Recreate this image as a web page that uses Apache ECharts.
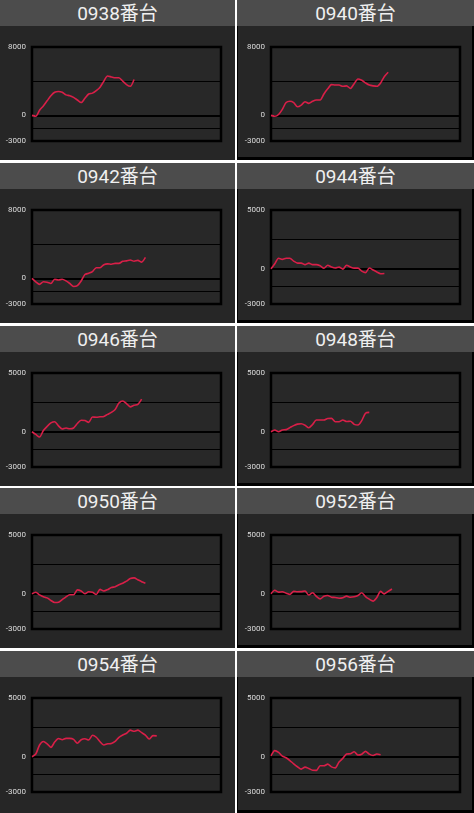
<!DOCTYPE html>
<html><head><meta charset="utf-8">
<script src="https://cdn.jsdelivr.net/npm/echarts@6/dist/echarts.min.js"></script>
<style>
html,body{margin:0;padding:0;background:#fff;width:474px;height:813px;overflow:hidden;}
.panel{position:absolute;background:#262626;box-sizing:border-box;}
.panel.right{border-left:1px solid #000;border-right:2px solid #000;border-bottom:3px solid #000;}
.hdr{position:absolute;left:0;top:0;right:0;height:26px;background:#4c4c4c;color:#f0f0f0;font-family:Roboto,"Noto Sans CJK JP",sans-serif;font-size:19px;line-height:28px;text-align:center;z-index:2;}
.panel.right .hdr{left:-1px;right:-2px;}
.chart{position:absolute;left:0;top:0;right:0;bottom:0;}
</style></head>
<body>
<script>
// ---- data ----
const TITLES = ['0938番台','0940番台','0942番台','0944番台','0946番台','0948番台','0950番台','0952番台','0954番台','0956番台'];
const Y_MIN = -3000;
const Y_MAX = [8000, 8000, 8000, 5000, 5000, 5000, 5000, 5000, 5000, 5000];
const X_SLOTS = 50;
const LABELS_8000 = [-3000, 0, 8000];
const LABELS_5000 = [-3000, 0, 5000];
const GRID_8000 = [4000, 0, -1500];
const GRID_5000 = [2500, 0, -1500];

const s0938 = [0,-100,600,1100,1700,2300,2700,2800,2700,2400,2300,2100,1800,1500,2000,2500,2600,2900,3300,4000,4600,4500,4400,4400,4000,3600,3400,4200];
const s0940 = [0,-100,100,700,1500,1650,1500,1000,1200,1600,1400,1650,1800,1800,2500,3100,3600,3550,3550,3400,3450,3150,3700,4250,4100,3800,3550,3450,3400,3800,4550,5050];
const s0942 = [0,-400,-700,-400,-450,-600,-100,-200,-100,-300,-600,-950,-850,-300,450,600,800,1250,1250,1600,1700,1650,1750,1750,2000,2050,2150,2000,2100,1900,2450];
const s0944 = [0,430,900,800,900,900,650,480,480,350,480,350,350,250,50,300,150,60,140,-30,300,150,50,50,-200,-330,60,-100,-270,-420,-400];
const s0946 = [0,-230,-450,100,450,750,850,500,230,320,250,320,700,980,950,800,1250,1230,1270,1300,1480,1650,1900,2450,2620,2400,2120,2250,2320,2770];
const s0948 = [0,150,0,150,180,350,520,650,680,560,340,620,1000,1000,1000,1130,1140,850,850,1000,870,900,630,570,950,1580,1650];
const s0950 = [0,130,-100,-250,-350,-570,-750,-730,-500,-260,-80,-80,330,230,0,170,120,-60,370,230,350,530,600,760,900,1070,1300,1350,1190,1030,900];
const s0952 = [0,300,140,170,50,-50,200,170,180,230,-110,80,-220,-440,-220,-150,-290,-320,-380,-340,-200,-300,-260,-150,80,-240,-460,-630,-320,200,-10,200,400];
const s0954 = [0,230,1000,1300,1100,800,1250,1550,1450,1560,1560,1480,1150,1450,1530,1430,1830,1660,1280,1000,1100,1130,1300,1650,1850,2000,2270,2170,2270,2050,1850,1510,1800,1780];
const s0956 = [80,520,370,60,-80,-320,-600,-850,-1050,-880,-1000,-1150,-1160,-770,-770,-630,-860,-950,-450,-140,230,260,420,150,220,460,220,110,230,170];
const SERIES = [s0938,s0940,s0942,s0944,s0946,s0948,s0950,s0952,s0954,s0956];

// ---- layout ----
const ROW_TOPS = [0, 163, 326, 488, 651];
const ROW_H = [160, 160, 160, 160, 162];

TITLES.forEach((title, k) => {
  const row = Math.floor(k / 2), col = k % 2;
  const p = document.createElement('div');
  p.className = 'panel' + (col ? ' right' : '');
  p.style.left = (col ? 237 : 0) + 'px';
  p.style.width = (col ? 237 : 235) + 'px';
  p.style.top = ROW_TOPS[row] + 'px';
  p.style.height = ROW_H[row] + 'px';
  const h = document.createElement('div');
  h.className = 'hdr';
  h.textContent = title;
  const c = document.createElement('div');
  c.className = 'chart';
  p.appendChild(c);
  p.appendChild(h);
  document.body.appendChild(p);

  const yMax = Y_MAX[k];
  const labels = yMax === 8000 ? LABELS_8000 : LABELS_5000;
  const lines = yMax === 8000 ? GRID_8000 : GRID_5000;
  const chart = echarts.init(c, null, {renderer: 'canvas'});
  chart.setOption({
    animation: false,
    grid: {left: col ? 33 : 32, top: 47, width: 189, height: 94, show: true,
           borderColor: '#000', borderWidth: 2.5, backgroundColor: '#282828'},
    xAxis: {type: 'value', min: 0, max: X_SLOTS, show: false},
    yAxis: {type: 'value', min: Y_MIN, max: yMax,
            axisLine: {show: false}, axisTick: {show: false}, splitLine: {show: false},
            axisLabel: {customValues: labels, color: '#dcdcdc', fontSize: 8, margin: 6,
                        fontFamily: 'Roboto, sans-serif', formatter: v => String(v)}},
    series: [{
      type: 'line',
      data: SERIES[k].map((v, i) => [i, v]),
      showSymbol: false,
      smooth: 0.25,
      z: 3,
      lineStyle: {color: '#d81f48', width: 1.6},
      markLine: {
        silent: true, symbol: 'none', z: 1,
        label: {show: false},
        emphasis: {disabled: true},
        data: lines.map(v => ({yAxis: v, lineStyle: {color: '#000', width: v === 0 ? 2 : 1.2, type: 'solid'}}))
      }
    }]
  });
});
</script>
</body></html>
